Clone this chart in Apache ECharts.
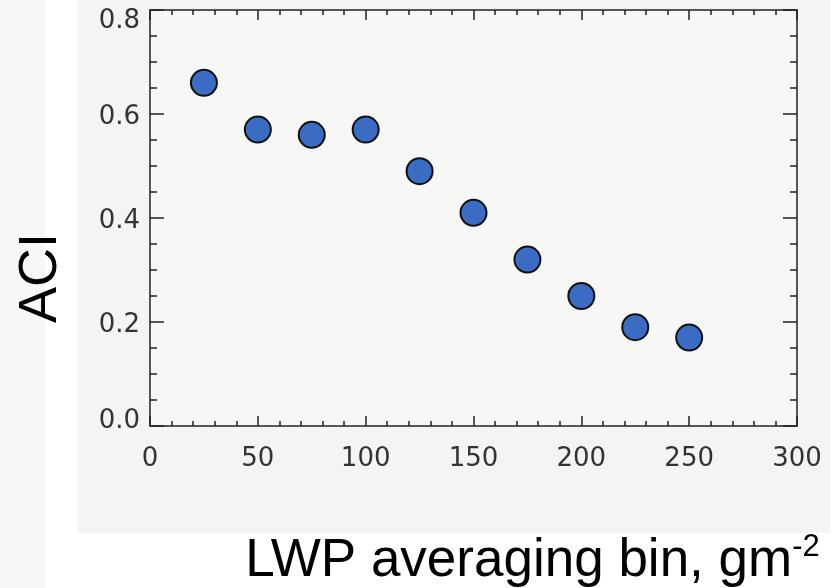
<!DOCTYPE html>
<html>
<head>
<meta charset="utf-8">
<script src="https://cdn.jsdelivr.net/npm/echarts@6/dist/echarts.min.js"></script>
<style>
html,body{margin:0;padding:0;background:#ffffff;}
#chart{width:836px;height:588px;}
</style>
</head>
<body>
<div id="chart"></div>
<script>
const lwpBins = [25, 50, 75, 100, 125, 150, 175, 200, 225, 250];
const aciValues = [0.66, 0.57, 0.56, 0.57, 0.49, 0.41, 0.32, 0.25, 0.19, 0.17];
const xTicks = [0, 50, 100, 150, 200, 250, 300];
const yTicks = [0.0, 0.2, 0.4, 0.6, 0.8];

const chart = echarts.init(document.getElementById('chart'), null, {renderer: 'canvas'});
const tickFont = {fontFamily: 'DejaVu Sans', fontSize: 26, color: '#333333'};
const axisLineStyle = {color: '#222222', width: 1.5};

function xAxis(pos, showLabels) {
  return {
    type: 'value', position: pos, min: 0, max: 300, interval: 50,
    axisLine: {show: true, onZero: false, lineStyle: axisLineStyle},
    axisTick: {show: true, inside: true, length: 10, lineStyle: axisLineStyle},
    minorTick: {show: true, splitNumber: 5, length: 5, lineStyle: axisLineStyle},
    axisLabel: Object.assign({show: showLabels, margin: 20,
      formatter: v => xTicks.includes(v) ? String(v) : ''}, tickFont),
    splitLine: {show: false}
  };
}
function yAxis(pos, showLabels) {
  return {
    type: 'value', position: pos, min: 0, max: 0.8, interval: 0.2,
    axisLine: {show: true, onZero: false, lineStyle: axisLineStyle},
    axisTick: {show: true, inside: true, length: 14, lineStyle: axisLineStyle},
    minorTick: {show: true, splitNumber: 4, length: 7, lineStyle: axisLineStyle},
    axisLabel: Object.assign({show: showLabels, margin: 10,
      formatter: v => {
        const i = yTicks.findIndex(k => Math.abs(k - v) < 1e-9);
        if (i < 0) return '';
        const s = yTicks[i].toFixed(1);
        if (i === yTicks.length - 1) return '{t|' + s + '}';
        if (i === 0) return '{b|' + s + '}';
        return '{m|' + s + '}';
      },
      rich: {
        t: Object.assign({padding: [22, 0, 0, 0]}, tickFont),
        b: Object.assign({padding: [0, 0, 10, 0]}, tickFont),
        m: Object.assign({padding: [6, 0, 0, 0]}, tickFont)
      }}, tickFont),
    splitLine: {show: false}
  };
}

const bottomX = xAxis('bottom', true);
bottomX.name = '{m|LWP averaging bin, gm}{s|-2}';
bottomX.nameLocation = 'middle';
bottomX.nameGap = 106;
bottomX.nameTextStyle = {
  padding: [0, 0, 0, 118],
  rich: {
    m: {fontFamily: 'Liberation Sans', fontSize: 53, lineHeight: 56, color: '#000', verticalAlign: 'bottom'},
    s: {fontFamily: 'Liberation Sans', fontSize: 31, lineHeight: 56, color: '#000', verticalAlign: 'top', padding: [0, 0, 22, 0]}
  }
};
const leftY = yAxis('left', true);
leftY.name = 'ACI';
leftY.nameLocation = 'middle';
leftY.nameRotate = 90;
leftY.nameGap = 82;
leftY.nameTextStyle = {fontFamily: 'Liberation Sans', fontSize: 54, color: '#000', padding: [0, 120, 0, 0]};

chart.setOption({
  backgroundColor: '#ffffff',
  animation: false,
  graphic: [
    {type: 'rect', silent: true, z: -10, shape: {x: 0, y: 0, width: 45, height: 588}, style: {fill: '#f7f7f7'}},
    {type: 'rect', silent: true, z: -10, shape: {x: 78, y: 0, width: 752, height: 533}, style: {fill: '#f4f4f4'}}
  ],
  grid: {left: 150, right: 39, top: 10, bottom: 162, containLabel: false, outerBoundsMode: 'none',
    show: true, backgroundColor: '#f7f7f6', borderWidth: 0},
  xAxis: [bottomX, xAxis('top', false)],
  yAxis: [leftY, yAxis('right', false)],
  series: [{
    type: 'scatter',
    xAxisIndex: 0, yAxisIndex: 0,
    data: lwpBins.map((x, i) => [x, aciValues[i]]),
    symbol: 'circle',
    symbolSize: 26,
    itemStyle: {color: '#3a6cc4', borderColor: '#111111', borderWidth: 2, opacity: 1}
  }]
});
</script>
</body>
</html>
